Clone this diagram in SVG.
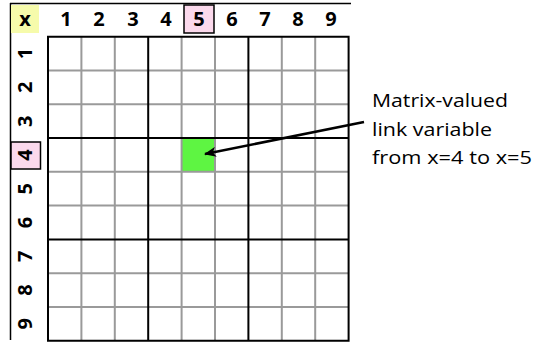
<svg xmlns="http://www.w3.org/2000/svg" width="535" height="343" viewBox="0 0 535 343">
<defs>
<style>
.lbl{font-family:"Open Sans","DejaVu Sans",sans-serif;font-weight:700;font-size:20px;fill:#000;text-anchor:middle}
.thin{stroke:#9a9a9a;stroke-width:2;fill:none}
.thick{stroke:#000;stroke-width:2;fill:none}
.note{font-family:"Open Sans","DejaVu Sans",sans-serif;font-size:19px;fill:#000}
</style>
<marker id="ah" markerWidth="12" markerHeight="10" refX="11" refY="5" orient="auto" markerUnits="userSpaceOnUse">
<path d="M0,0 L12,5 L0,10 L3,5 Z" fill="#000"/>
</marker>
</defs>
<rect width="535" height="343" fill="#fff"/>
<g id="frame">
<line x1="10" y1="3.5" x2="351" y2="3.5" stroke="#000" stroke-width="1.5"/>
<line x1="10.5" y1="3" x2="10.5" y2="340" stroke="#000" stroke-width="1.5"/>
</g>
<g id="corner">
<rect x="11" y="5" width="28" height="28" fill="#f6fbab"/>
<text class="lbl" x="25" y="26" font-size="24">x</text>
</g>
<g id="highlight-cell">
<rect x="181.6" y="138" width="33.4" height="33.8" fill="#5ef542"/>
</g>
<g id="grid">
<path class="thin" d="M81.4,36.7V340.8M114.8,36.7V340.8M181.6,36.7V340.8M215,36.7V340.8M281.8,36.7V340.8M315.2,36.7V340.8M48,70.5H348.6M48,104.3H348.6M48,171.8H348.6M48,205.6H348.6M48,273.2H348.6M48,307H348.6"/>
<path class="thick" d="M48,36.7V340.8M148.2,36.7V340.8M248.4,36.7V340.8M348.6,36.7V340.8M47,36.7H349.6M47,138H349.6M47,239.4H349.6M47,340.8H349.6"/>
</g>
<g id="col-labels">
<rect x="184" y="5" width="30" height="28" fill="#fbd9ec" stroke="#000" stroke-width="1.5"/>
<text class="lbl" x="66" y="25.5">1</text>
<text class="lbl" x="99" y="25.5">2</text>
<text class="lbl" x="133" y="25.5">3</text>
<text class="lbl" x="166" y="25.5">4</text>
<text class="lbl" x="199" y="25.5">5</text>
<text class="lbl" x="232" y="25.5">6</text>
<text class="lbl" x="265" y="25.5">7</text>
<text class="lbl" x="298" y="25.5">8</text>
<text class="lbl" x="331" y="25.5">9</text>
</g>
<g id="row-labels">
<rect x="11" y="142" width="29.5" height="27" fill="#fbd9ec" stroke="#000" stroke-width="1.5"/>
<text class="lbl" transform="translate(32,53.6) rotate(-90)">1</text>
<text class="lbl" transform="translate(32,87.4) rotate(-90)">2</text>
<text class="lbl" transform="translate(32,121.2) rotate(-90)">3</text>
<text class="lbl" transform="translate(32,155) rotate(-90)">4</text>
<text class="lbl" transform="translate(32,188.7) rotate(-90)">5</text>
<text class="lbl" transform="translate(32,222.5) rotate(-90)">6</text>
<text class="lbl" transform="translate(32,256.3) rotate(-90)">7</text>
<text class="lbl" transform="translate(32,290.1) rotate(-90)">8</text>
<text class="lbl" transform="translate(32,323.9) rotate(-90)">9</text>
</g>
<g id="connectors">
<line x1="364" y1="122" x2="205" y2="154" stroke="#000" stroke-width="2.5" marker-end="url(#ah)"/>
</g>
<g id="note">
<text class="note" x="372" y="107" textLength="136" lengthAdjust="spacingAndGlyphs">Matrix-valued</text>
<text class="note" x="372" y="136" textLength="120" lengthAdjust="spacingAndGlyphs">link variable</text>
<text class="note" x="372" y="164" textLength="160" lengthAdjust="spacingAndGlyphs">from x=4 to x=5</text>
</g>
</svg>
